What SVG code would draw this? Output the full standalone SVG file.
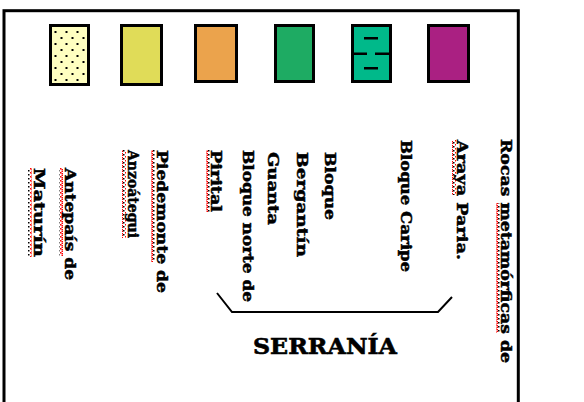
<svg xmlns="http://www.w3.org/2000/svg" width="584" height="402" viewBox="0 0 584 402">
<style>
.box{stroke:#000;stroke-width:3}
.lbl{font-family:"DejaVu Serif","Liberation Serif",serif;font-weight:bold;font-size:15px;fill:#000;stroke:#000;stroke-width:0.5}
.big{font-family:"DejaVu Serif","Liberation Serif",serif;font-weight:bold;font-size:22px;fill:#000;stroke:#000;stroke-width:0.6}
.sq{fill:url(#squig)}
.conn{stroke:#000;stroke-width:2;fill:none}
</style>
<defs>
<pattern id="dots" patternUnits="userSpaceOnUse" x="54.5" y="31" width="11" height="12">
<rect x="0" y="0" width="2" height="2" fill="#000"/>
<rect x="6" y="6" width="2" height="2" fill="#000"/>
</pattern>
<pattern id="squig" patternUnits="userSpaceOnUse" x="0" y="0" width="5" height="4">
<rect x="0" y="0" width="1.5" height="1.5" fill="#f00"/>
<rect x="1.5" y="1" width="1.5" height="1.5" fill="#f00"/>
<rect x="3" y="2" width="1.5" height="1.5" fill="#000"/>
<rect x="1.5" y="3" width="1.5" height="1" fill="#f00"/>
</pattern>
</defs>
<rect x="4" y="10.7" width="514.3" height="400" fill="none" stroke="#000" stroke-width="3"/>
<g id="unit1">
<rect class="box" x="50.5" y="25.5" width="38" height="59" fill="#FFFFC0"/>
<rect x="52" y="27" width="35" height="56" fill="url(#dots)"/>
<rect class="sq" x="59" y="168" width="4" height="88"/>
<rect class="sq" x="28" y="168" width="4" height="89"/>
<text class="lbl" transform="translate(65,168) rotate(90)" textLength="112" lengthAdjust="spacingAndGlyphs">Antepaís de</text>
<text class="lbl" transform="translate(34,168) rotate(90)" textLength="89" lengthAdjust="spacingAndGlyphs">Maturín</text>
</g>
<g id="unit2">
<rect class="box" x="121.5" y="25.5" width="40" height="59" fill="#E0DC58"/>
<rect class="sq" x="151" y="150" width="4" height="112"/>
<rect class="sq" x="122" y="150" width="4" height="88"/>
<text class="lbl" transform="translate(157,150) rotate(90)" textLength="143" lengthAdjust="spacingAndGlyphs">Piedemonte de</text>
<text class="lbl" transform="translate(128,150) rotate(90)" textLength="88" lengthAdjust="spacingAndGlyphs">Anzoátegui</text>
</g>
<g id="unit3">
<rect class="box" x="195.5" y="25.5" width="41" height="56" fill="#EBA34C"/>
<rect class="sq" x="206" y="150" width="4" height="62"/>
<text class="lbl" transform="translate(243,150) rotate(90)" textLength="152" lengthAdjust="spacingAndGlyphs">Bloque norte de</text>
<text class="lbl" transform="translate(211,150) rotate(90)" textLength="62" lengthAdjust="spacingAndGlyphs">Pirital</text>
</g>
<g id="unit4">
<rect class="box" x="275.5" y="25.5" width="38" height="56" fill="#1EAB63"/>
<text class="lbl" transform="translate(325,152) rotate(90)" textLength="68" lengthAdjust="spacingAndGlyphs">Bloque</text>
<text class="lbl" transform="translate(297,152) rotate(90)" textLength="105" lengthAdjust="spacingAndGlyphs">Bergantín</text>
<text class="lbl" transform="translate(268,152) rotate(90)" textLength="73" lengthAdjust="spacingAndGlyphs">Guanta</text>
</g>
<g id="unit5">
<rect class="box" x="352.5" y="25.5" width="38" height="56" fill="#00B98A"/>
<rect x="364" y="37" width="14" height="2.5" fill="#000"/>
<rect x="353" y="52.5" width="14" height="2.5" fill="#000"/>
<rect x="375" y="52.5" width="14" height="2.5" fill="#000"/>
<rect x="364" y="67" width="14" height="2.5" fill="#000"/>
<text class="lbl" transform="translate(401,140) rotate(90)" textLength="132" lengthAdjust="spacingAndGlyphs">Bloque Caripe</text>
</g>
<g id="unit6">
<rect class="box" x="428.5" y="25.5" width="40" height="56" fill="#AA2082"/>
<rect class="sq" x="452" y="140" width="4" height="55"/>
<rect class="sq" x="496" y="203" width="4" height="130"/>
<text class="lbl" transform="translate(501,139) rotate(90)" textLength="224" lengthAdjust="spacingAndGlyphs">Rocas metamórficas de</text>
<text class="lbl" transform="translate(457,140) rotate(90)" textLength="120" lengthAdjust="spacingAndGlyphs">Araya Paria.</text>
</g>
<g id="connectors">
<polyline class="conn" points="217,293 232,312 438,312 452,297"/>
</g>
<g id="serrania">
<text class="big" x="253" y="354" textLength="144" lengthAdjust="spacingAndGlyphs">SERRANÍA</text>
</g>
</svg>
